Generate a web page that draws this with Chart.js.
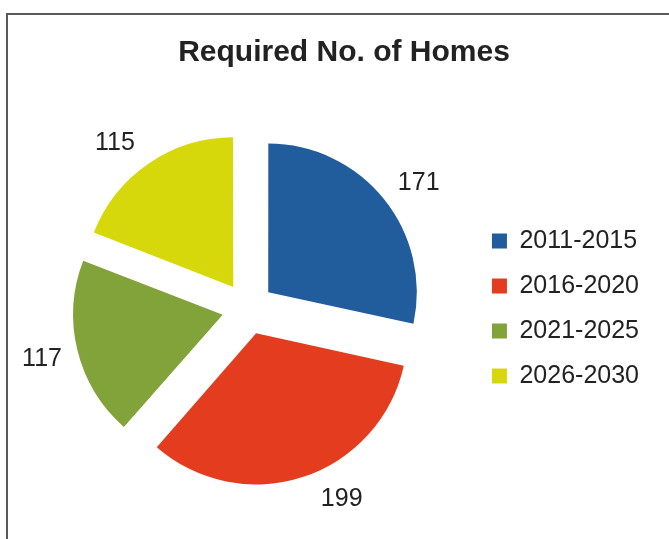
<!DOCTYPE html>
<html><head><meta charset="utf-8">
<script src="https://cdn.jsdelivr.net/npm/chart.js@4/dist/chart.umd.min.js"></script>
<style>
html,body{margin:0;padding:0;background:#fff;overflow:hidden;}
#frame{position:absolute;left:6px;top:13px;width:700px;height:600px;border-top:2px solid #5a5a5a;border-left:2px solid #5a5a5a;}
#wrap{position:absolute;left:0;top:0;width:669px;height:539px;}
</style></head><body>
<div id="frame"></div>
<div id="wrap"><canvas id="c" width="669" height="539"></canvas></div>
<script>
const chartTitle = 'Required No. of Homes';
const categories = ['2011-2015', '2016-2020', '2021-2025', '2026-2030'];
const homes = [171, 199, 117, 115];
const sliceColors = ['#215d9c', '#e43c1f', '#82a33a', '#d7d80c'];

const titleNudge = {
  id: 'titleNudge',
  afterLayout(chart, args, opts) {
    const t = chart.titleBlock;
    if (t) { t.left += opts.shift; t.right += opts.shift; }
  }
};

const outsideLabels = {
  id: 'outsideLabels',
  afterDatasetsDraw(chart, args, opts) {
    const ctx = chart.ctx;
    const meta = chart.getDatasetMeta(0);
    const data = chart.data.datasets[0].data;
    ctx.save();
    ctx.font = opts.font;
    ctx.fillStyle = opts.color;
    ctx.textAlign = 'center';
    ctx.textBaseline = 'middle';
    meta.data.forEach((arc, i) => {
      const p = arc.getProps(['x', 'y', 'startAngle', 'endAngle', 'outerRadius'], true);
      const mid = (p.startAngle + p.endAngle) / 2 + (opts.angleNudge[i] || 0) * Math.PI / 180;
      const r = p.outerRadius + opts.distance;
      ctx.fillText(String(data[i]), p.x + Math.cos(mid) * r, p.y + Math.sin(mid) * r);
    });
    ctx.restore();
  }
};

new Chart(document.getElementById('c'), {
  type: 'pie',
  data: {
    labels: categories,
    datasets: [{
      data: homes,
      backgroundColor: sliceColors,
      borderWidth: 0,
      offset: 104,
      radius: 148
    }]
  },
  options: {
    responsive: false,
    animation: false,
    layout: { padding: { left: 24, right: 20, top: 0, bottom: 0 } },
    plugins: {
      title: {
        display: true,
        text: chartTitle,
        color: '#222',
        font: { family: 'Liberation Sans, Arial, sans-serif', size: 30, weight: 'bold', lineHeight: 1.2 },
        padding: { top: 35, bottom: 7 }
      },
      legend: {
        position: 'right',
        fullSize: false,
        labels: {
          color: '#222',
          font: { family: 'Liberation Sans, Arial, sans-serif', size: 25 },
          boxWidth: 15,
          boxHeight: 15,
          padding: 20
        }
      },
      tooltip: { enabled: false },
      titleNudge: { shift: 7.5 },
      outsideLabels: {
        font: '25px "Liberation Sans", Arial, sans-serif',
        color: '#222',
        distance: 64,
        angleNudge: [2.5, -8, 0, -4.5]
      }
    }
  },
  plugins: [titleNudge, outsideLabels]
});
</script>
</body></html>
